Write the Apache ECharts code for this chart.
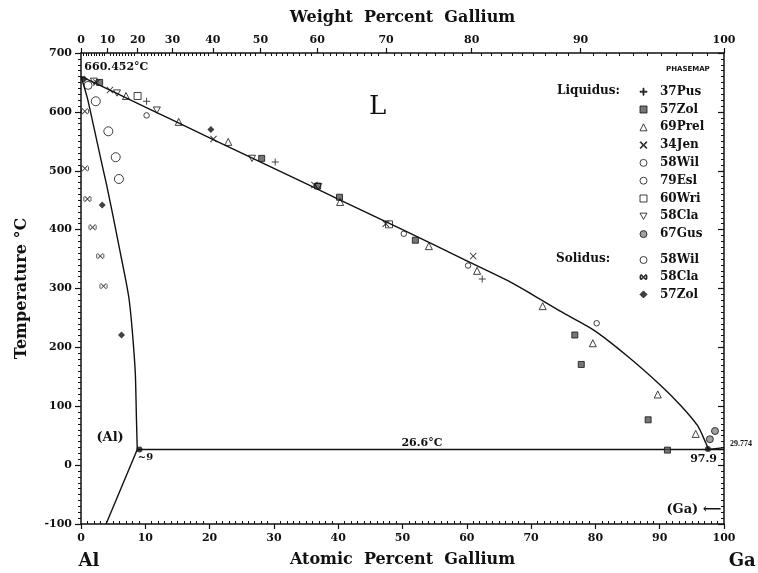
<!DOCTYPE html>
<html><head><meta charset="utf-8">
<script src="https://cdn.jsdelivr.net/npm/echarts@6/dist/echarts.min.js"></script>
<style>html,body{margin:0;padding:0;background:#fff;}#c{width:758px;height:573px;}</style>
</head><body><div id="c"></div>
<script>
// ---------- data ----------
const xTickLabels = [0,10,20,30,40,50,60,70,80,90,100];
const yTickLabels = [-100,0,100,200,300,400,500,600,700];
const wtTickLabels = [0,10,20,30,40,50,60,70,80,90,100];
const massAl = 26.98, massGa = 69.72;

const liquidusLine = [[0,660.452],[10,608],[20,556],[30,504],[40,452],[50,400],[60,347],[66.8,311],[70,291],[74.6,261],[79.8,229],[85,185],[90.2,135],[93.3,101],[95.9,67],[97.0,42],[97.6,26.6]];
const gaLiquidusLine = [[97.6,26.6],[100,29.774]];
const solidusLine = [[0,660.452],[1,623],[2,574],[3,524],[4,475],[5,422],[6,367],[7,312],[7.5,280],[8,225],[8.45,155],[8.62,80],[8.75,26.6]];
const solvusLine = [[8.75,26.6],[3.9,-100]];
const eutecticLine = [[8.75,26.6],[100,26.6]];
const eutecticPoints = [[9.1,26.6],[97.5,27.5]];

// liquidus data
const pus37 = [[10.2,618],[30.2,515],[62.4,316]];
const zol57 = [[2.9,650],[28.1,521],[36.8,474],[40.2,455],[52.0,382],[76.8,221],[77.8,171],[88.2,77],[91.2,25.5]];
const prel69 = [[7.0,627],[15.2,583],[22.9,549],[40.3,447],[54.1,372],[61.6,330],[71.8,270],[79.6,207],[89.7,120],[95.6,53]];
const jen34 = [[2.4,650],[4.5,637],[20.6,554],[36.3,476],[47.4,410],[61.0,355]];
const wil58L = [[1.1,645]];
const esl79 = [[10.2,594],[50.2,393],[60.2,339],[80.2,241]];
const wri60 = [[8.8,627],[47.9,409]];
const cla58L = [[2.0,652],[5.6,632],[11.8,603],[26.6,521],[36.9,473]];
const gus67 = [[98.6,58],[97.8,44]];
// solidus data
const wil58S = [[2.3,618],[4.25,567],[5.4,523],[5.9,486]];
const cla58S = [[0.6,601],[0.6,504],[1.0,452],[1.8,404],[3.0,355],[3.5,304]];
const zol57S = [[0.5,656],[3.3,442],[6.3,221],[20.2,570]];

const liquidusNames = ['37Pus','57Zol','69Prel','34Jen','58Wil','79Esl','60Wri','58Cla','67Gus'];
const solidusNames = ['58Wil (S)','58Cla (S)','57Zol (S)'];

// ---------- helpers ----------
function wtToAt(w){ if(w<=0) return 0; if(w>=100) return 100; const a=w/massGa, b=(100-w)/massAl; return 100*a/(a+b); }
const topMajor = wtTickLabels.map(wtToAt);
const topMinor = [];
for(let w=1; w<100; w++){ if(w%10!==0) topMinor.push(wtToAt(w)); }

const FONT = 'DejaVu Serif';
const INK = '#111';
const PLUS = 'path://M4.3,0H5.7V4.3H10V5.7H5.7V10H4.3V5.7H0V4.3H4.3Z';
const CROSS = 'path://M1,0L5,4L9,0L10,1L6,5L10,9L9,10L5,6L1,10L0,9L4,5L0,1Z';
const BOWX = 'path://M1.8,1L5,4.2L8.2,1L9,1.8L5.8,5L9,8.2L8.2,9L5,5.8L1.8,9L1,8.2L4.2,5L1,1.8Z M0,2.5H1.1V7.5H0Z M8.9,2.5H10V7.5H8.9Z';
const DTRI = 'path://M0,0L10,0L5,9Z';

function sc(name, data, symbol, size, fill, bw){
  return {type:'scatter', name, data, symbol, symbolSize:size, symbolKeepAspect:true, z:5,
    itemStyle:{color:fill, borderColor:INK, borderWidth:bw}, emphasis:{disabled:true}};
}
function ln(data, smooth){
  return {type:'line', data, showSymbol:false, smooth:smooth||false, z:3, silent:true,
    lineStyle:{color:INK, width:1.4}, emphasis:{disabled:true}};
}
const clear = 'rgba(255,255,255,0)';

const notes = [
  {t:'660.452°C', v:[0.6,675], s:11, a:'left'},
  {t:'L', v:[46.2,607], s:26, w:'normal'},
  {t:'(Al)', v:[4.6,46], s:13},
  {t:'~9', v:[10.1,12], s:10},
  {t:'26.6°C', v:[53.1,37], s:11},
  {t:'97.9', v:[96.9,9], s:11},
  {t:'29.774', v:[101.0,35], s:8, a:'left', f:'Liberation Serif'},
  {t:'(Ga) ⟵', v:[95.4,-76], s:13},
  {t:'Al', v:[1.3,-164], s:18},
  {t:'Ga', v:[102.9,-164], s:18}
];

const series = [
  ln(liquidusLine, 0.25), ln(gaLiquidusLine), ln(solidusLine, 0.2), ln(solvusLine), ln(eutecticLine),
  sc('37Pus', pus37, PLUS, 7, INK, 0),
  sc('57Zol', zol57, 'rect', 6, '#555', 1),
  sc('69Prel', prel69, 'triangle', 7, clear, 1),
  sc('34Jen', jen34, CROSS, 7, INK, 0),
  sc('58Wil', wil58L, 'circle', 8, clear, 1),
  sc('79Esl', esl79, 'circle', 5.5, clear, 1),
  sc('60Wri', wri60, 'rect', 7, clear, 1),
  sc('58Cla', cla58L, DTRI, 7, clear, 1),
  sc('67Gus', gus67, 'circle', 7, '#888', 1),
  sc('58Wil (S)', wil58S, 'circle', 9, clear, 1),
  sc('58Cla (S)', cla58S, BOWX, 8, INK, 0),
  sc('57Zol (S)', zol57S, 'diamond', 7, INK, 0),
  sc('eutectic', eutecticPoints, 'circle', 6, INK, 0),
  {type:'scatter', name:'notes', silent:true, clip:false, symbolSize:1, z:6,
   itemStyle:{color:clear},
   data: notes.map(n=>({value:n.v, label:{show:true, formatter:n.t, position:[0,0], distance:0,
     align:n.a||'center', verticalAlign:'middle',
     fontFamily:n.f||FONT, fontSize:n.s, fontWeight:n.w||'bold', color:INK, opacity:1}}))}
];

const axisLine = {show:true, onZero:false, lineStyle:{color:INK, width:1.5}};
const labelStyle = {fontFamily:FONT, fontWeight:'bold', fontSize:11, color:INK};

const option = {
  animation:false,
  backgroundColor:'#fff',
  grid:{left:81, top:53, width:643, height:477, containLabel:false},
  xAxis:[
    {type:'value', position:'bottom', min:0, max:100, interval:10,
     axisLine, splitLine:{show:false},
     axisTick:{show:true, length:5, lineStyle:{color:INK, width:1.2}},
     minorTick:{show:true, splitNumber:10, length:-3, lineStyle:{color:INK, width:1}},
     axisLabel:{...labelStyle, margin:9, formatter:v=>xTickLabels.includes(v)?String(v):''},
     name:'Atomic  Percent  Gallium', nameLocation:'middle', nameGap:28,
     nameTextStyle:{fontFamily:FONT, fontWeight:'bold', fontSize:16, color:INK}},
    {type:'value', position:'top', min:0, max:100,
     axisLine, splitLine:{show:false},
     axisTick:{show:true, length:5, customValues:topMajor, lineStyle:{color:INK, width:1.2}},
     axisLabel:{...labelStyle, margin:7, customValues:topMajor,
       formatter:v=>{ const i = topMajor.findIndex(p=>Math.abs(p-v)<0.01); return i>=0 ? String(wtTickLabels[i]) : ''; }},
     name:'Weight  Percent  Gallium', nameLocation:'middle', nameGap:27,
     nameTextStyle:{fontFamily:FONT, fontWeight:'bold', fontSize:16, color:INK}},
    {type:'value', position:'top', min:0, max:100,
     axisLine:{show:false, onZero:false}, splitLine:{show:false}, axisLabel:{show:false},
     axisTick:{show:true, inside:true, length:3, customValues:topMinor, lineStyle:{color:INK, width:1}}}
  ],
  yAxis:[
    {type:'value', position:'left', min:-100, max:700, interval:100,
     axisLine, splitLine:{show:false},
     axisTick:{show:true, length:6, lineStyle:{color:INK, width:1.2}},
     minorTick:{show:true, splitNumber:10, length:3, lineStyle:{color:INK, width:1}},
     axisLabel:{...labelStyle, margin:9, formatter:v=>yTickLabels.includes(v)?String(v):''},
     name:'Temperature °C', nameLocation:'middle', nameRotate:90, nameGap:51,
     nameTextStyle:{fontFamily:FONT, fontWeight:'bold', fontSize:16, color:INK}},
    {type:'value', position:'right', min:-100, max:700, interval:100,
     axisLine, splitLine:{show:false}, axisLabel:{show:false},
     axisTick:{show:true, inside:true, length:6, lineStyle:{color:INK, width:1.2}},
     minorTick:{show:true, splitNumber:10, length:3, lineStyle:{color:INK, width:1}}}
  ],
  legend:[
    {data:liquidusNames, orient:'vertical', left:639.5, top:85.7, padding:0,
     itemWidth:7, itemHeight:7, itemGap:5.8, selectedMode:false,
     itemStyle:{borderWidth:1},
     textStyle:{fontFamily:FONT, fontWeight:'bold', fontSize:12, lineHeight:12, color:INK, padding:[0,0,0,8]}},
    {data:solidusNames, orient:'vertical', left:639.5, top:254, padding:0,
     itemWidth:7, itemHeight:7, itemGap:5.2, selectedMode:false,
     itemStyle:{borderWidth:1},
     formatter:n=>n.replace(' (S)',''),
     textStyle:{fontFamily:FONT, fontWeight:'bold', fontSize:12, lineHeight:12, color:INK, padding:[0,0,0,8]}}
  ],
  graphic:[
    {type:'text', left:557, top:85, style:{text:'Liquidus:', font:'bold 12px "DejaVu Serif"', fill:INK}},
    {type:'text', left:556, top:253, style:{text:'Solidus:', font:'bold 12px "DejaVu Serif"', fill:INK}},
    {type:'text', left:666, top:66, style:{text:'PHASEMAP', font:'bold 7px "DejaVu Sans"', fill:INK}}
  ],
  series
};
const chart = echarts.init(document.getElementById('c'), null, {renderer:'canvas'});
chart.setOption(option);
</script>
</body></html>
